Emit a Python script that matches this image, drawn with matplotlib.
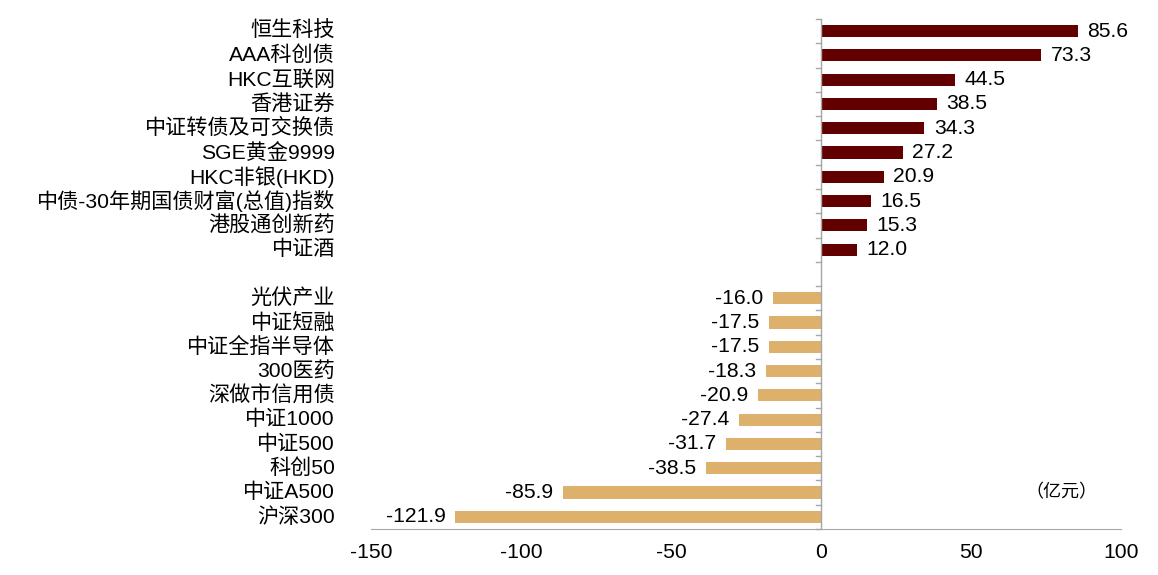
import numpy as np
import matplotlib
matplotlib.use("Agg")
from matplotlib import pyplot as plt
from matplotlib.transforms import blended_transform_factory

plt.rcParams['font.family'] = ['Liberation Sans', 'Noto Sans CJK SC', 'DejaVu Sans']

inflow_names = ["恒生科技", "AAA科创债", "HKC互联网", "香港证券", "中证转债及可交换债",
                "SGE黄金9999", "HKC非银(HKD)", "中债-30年期国债财富(总值)指数", "港股通创新药", "中证酒"]
inflow_values = [85.6, 73.3, 44.5, 38.5, 34.3, 27.2, 20.9, 16.5, 15.3, 12.0]

outflow_names = ["光伏产业", "中证短融", "中证全指半导体", "300医药", "深做市信用债",
                 "中证1000", "中证500", "科创50", "中证A500", "沪深300"]
outflow_values = [-16.0, -17.5, -17.5, -18.3, -20.9, -27.4, -31.7, -38.5, -85.9, -121.9]

x_ticks = [-150, -100, -50, 0, 50, 100]

pos_color = "#620000"
neg_color = "#DDB06B"
axis_color = "#A6A6A6"
fs = 15.2

fig = plt.figure(figsize=(11.58, 5.75), dpi=100)
ax = fig.add_axes([0.3204, 0.08, 0.6477, 0.887])

y_in = np.arange(len(inflow_values))
y_out = np.arange(len(outflow_values)) + len(inflow_values) + 1

ax.barh(y_in, inflow_values, height=0.5, color=pos_color)
ax.barh(y_out, outflow_values, height=0.5, color=neg_color)

n_slots = len(inflow_values) + len(outflow_values) + 1
ax.set_ylim(n_slots - 0.5, -0.5)
ax.set_xlim(-150, 100)

# value labels
for y, v in zip(y_in, inflow_values):
    ax.annotate(f"{v:.1f}", (v, y), xytext=(7, 0), textcoords="offset points",
                ha="left", va="center", fontsize=fs)
for y, v in zip(y_out, outflow_values):
    ax.annotate(f"{v:.1f}", (v, y), xytext=(-7, 0), textcoords="offset points",
                ha="right", va="center", fontsize=fs)

# category names on the left
trans = blended_transform_factory(fig.transFigure, ax.transData)
for y, name in zip(list(y_in) + list(y_out), inflow_names + outflow_names):
    ax.text(0.2893, y, name, transform=trans, ha="right", va="center", fontsize=fs)

ax.text(80, y_out[-2], "（亿元）", ha="center", va="center", fontsize=13)

# spines
for s in ["top", "right", "left"]:
    ax.spines[s].set_visible(False)
ax.spines["bottom"].set_color(axis_color)
ax.axvline(0, color=axis_color, lw=1)

ax.set_yticks([])
for yb in np.arange(-0.5, n_slots, 1.0):
    ax.plot([-1.8, 0], [yb, yb], color=axis_color, lw=1, clip_on=False)

ax.set_xticks(x_ticks)
ax.set_xticklabels([str(t) for t in x_ticks], fontsize=fs)
ax.tick_params(axis="x", length=0, pad=10)

fig.savefig("out.png", dpi=100)
